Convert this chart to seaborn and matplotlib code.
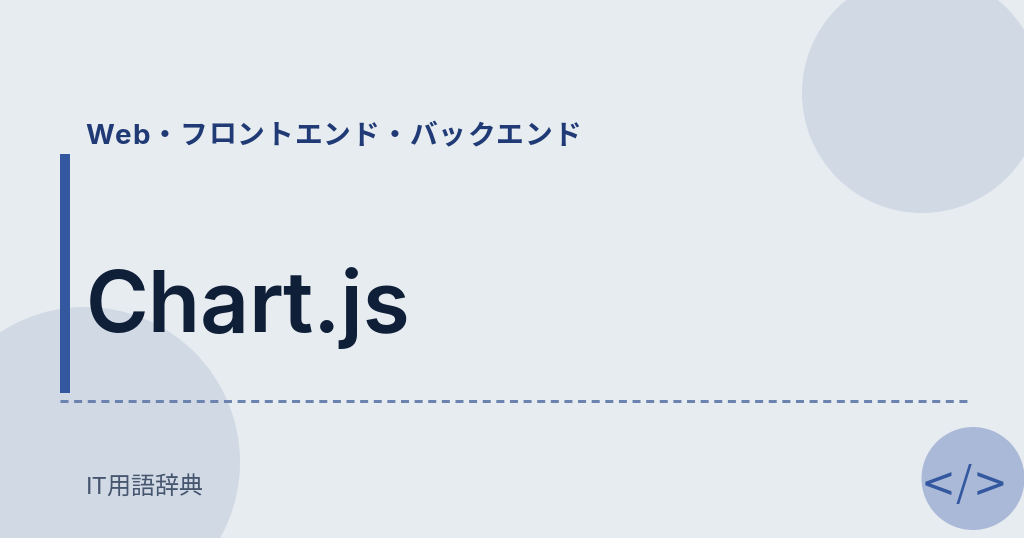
import matplotlib
matplotlib.use("Agg")
import matplotlib.pyplot as plt
import seaborn as sns
from matplotlib.patches import Circle, Rectangle

W, H = 1024, 538

# text and shapes of the card
subtitle = "Web・フロントエンド・バックエンド"
title = "Chart.js"
footer = "IT用語辞典"
icon_chars = ["<", "/", ">"]

circle_x = [922, 85, 973]
circle_y = [93, 462, 478.5]
circle_r = [120, 155, 51.5]
circle_colors = ["#d1d9e5", "#d1d9e5", "#a9b9d7"]

sns.set_theme(style="white")
plt.rcParams['font.family'] = ['Inter', 'Noto Sans CJK JP', 'DejaVu Sans']

fig = plt.figure(figsize=(W / 100, H / 100), dpi=100, facecolor="#e7ecf1")
ax = fig.add_axes([0, 0, 1, 1])
ax.set_xlim(0, W)
ax.set_ylim(H, 0)
ax.axis("off")


def text_width(s, **kw):
    t = ax.text(0, 0, s, **kw)
    w = t.get_window_extent(fig.canvas.get_renderer()).width
    t.remove()
    return w


def spaced_text(x, y, s, tracking, **kw):
    # matplotlib has no letter spacing, so each character is placed on its own
    ref = text_width("x", **kw)
    for i, ch in enumerate(s):
        off = text_width(s[:i] + "x", **kw) - ref if i else 0
        ax.text(x + off + i * tracking, y, ch, va="baseline", ha="left", zorder=3, **kw)


# background circles
for x, y, r, c in zip(circle_x, circle_y, circle_r, circle_colors):
    ax.add_patch(Circle((x, y), r, color=c, lw=0, zorder=1))

# left bar and dashed rule
ax.add_patch(Rectangle((60, 154), 10, 239, color="#34589f", lw=0, zorder=2))
sns.lineplot(x=[60, 969], y=[401, 401], ax=ax, color="#6b83ae", lw=2.16,
             linestyle=(0, (2.67, 1.87)), zorder=2)

spaced_text(85, 144, subtitle, 0.97, fontsize=20, fontweight="bold", color="#1f3a75")
ax.text(86, 332, title, fontsize=61.5, fontweight="semibold", color="#0f1f38", va="baseline", ha="left", zorder=3)
ax.text(86, 495, footer, fontsize=17.3, color="#46566f", va="baseline", ha="left", zorder=3)

# icon in the small circle
icon_kw = dict(va="center", ha="center", color="#34589f", zorder=3)
ax.text(938.5, 485, icon_chars[0], fontsize=30, family="DejaVu Sans", **icon_kw)
ax.text(964, 484, icon_chars[1], fontsize=30, family="Noto Sans CJK JP", **icon_kw)
ax.text(990, 485, icon_chars[2], fontsize=30, family="DejaVu Sans", **icon_kw)

fig.savefig("out.png", dpi=100, facecolor=fig.get_facecolor())
